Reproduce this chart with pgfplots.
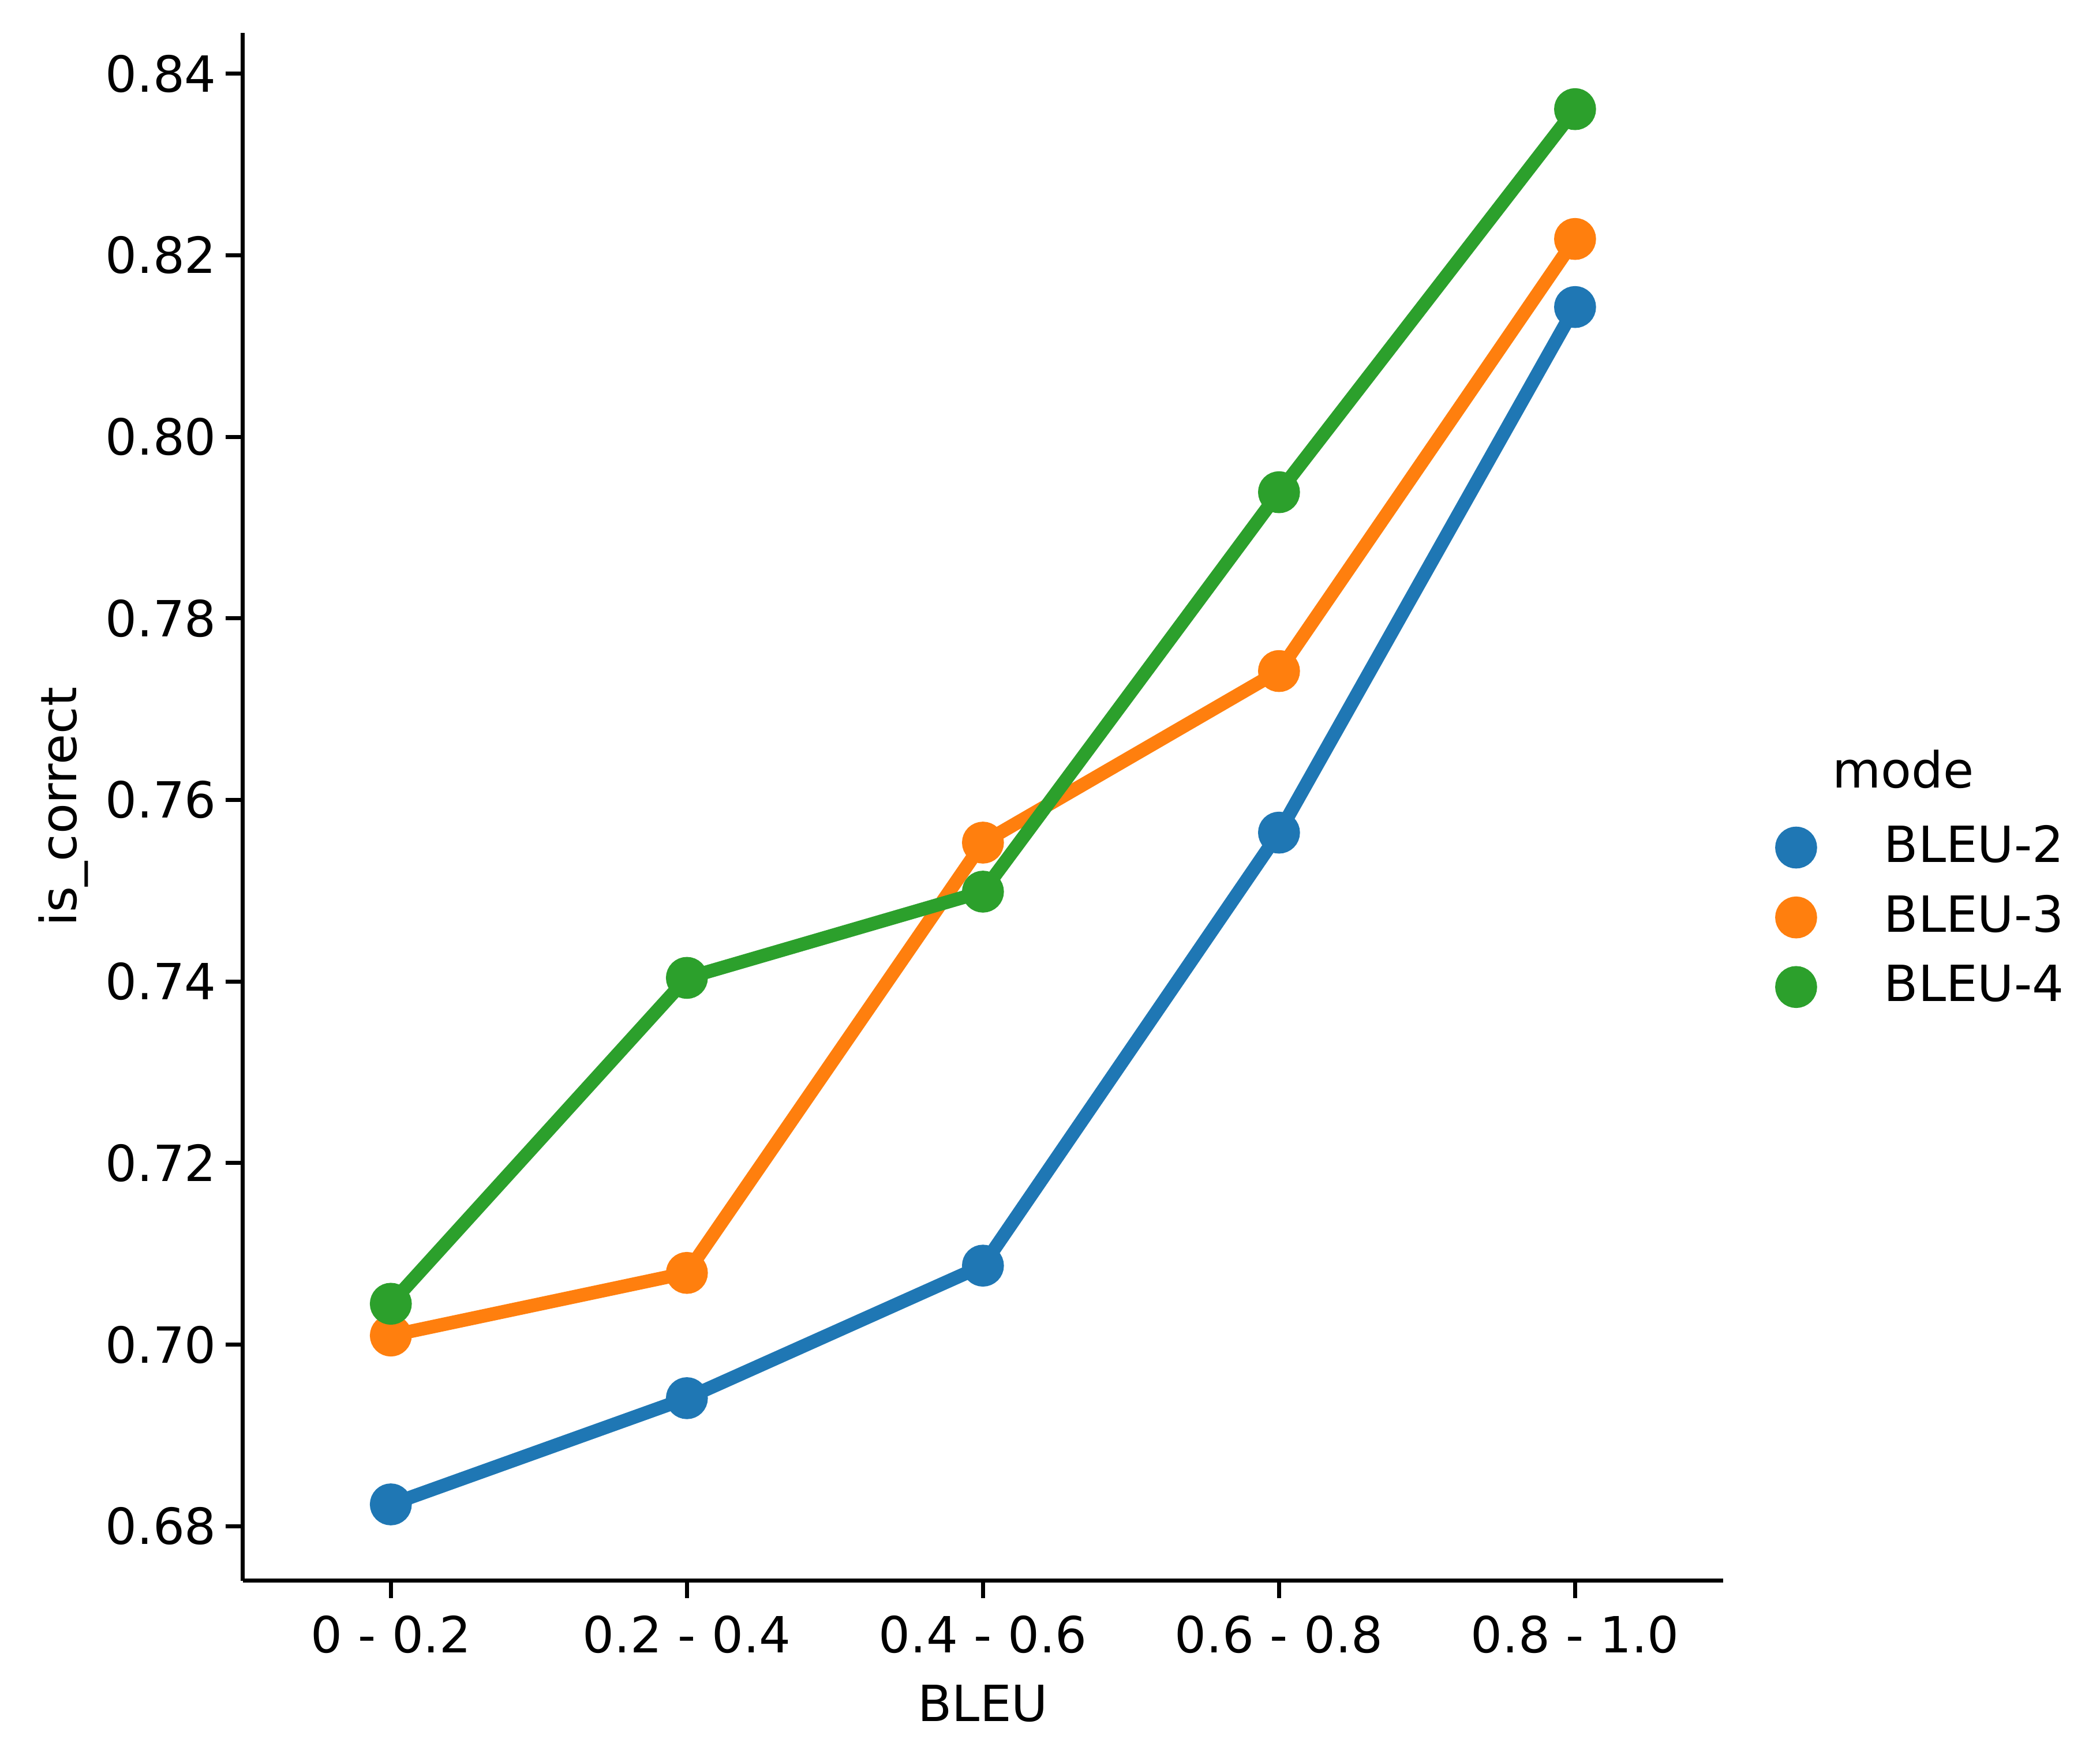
\documentclass[border=0pt]{standalone}
\usepackage{fontspec}
\setmainfont{DejaVu Sans}
\usepackage{pgfplots}
\pgfplotsset{compat=1.18}

\definecolor{tabblue}{HTML}{1F77B4}
\definecolor{taborange}{HTML}{FF7F0E}
\definecolor{tabgreen}{HTML}{2CA02C}

\begin{document}
\begin{tikzpicture}
\begin{axis}[
    name=ax,
    scale only axis,
    width=296.9pt, height=310.5pt,
    xmin=-0.5, xmax=4.5,
    ymin=0.674, ymax=0.8445,
    clip=false,
    axis lines=left,
    axis line style={-, line width=0.8pt, black},
    tick align=outside,
    major tick length=3.5pt,
    every tick/.style={black, line width=0.8pt},
    xtick={0,1,2,3,4},
    xticklabels={0 - 0.2, 0.2 - 0.4, 0.4 - 0.6, 0.6 - 0.8, 0.8 - 1.0},
    ytick={0.68,0.70,0.72,0.74,0.76,0.78,0.80,0.82,0.84},
    /pgf/number format/assume math mode=true,
    yticklabel={\pgfmathprintnumber[fixed, fixed zerofill, precision=2]{\tick}},
    xticklabel style={inner sep=0pt, anchor=base, yshift=-11pt},
    yticklabel style={inner sep=0pt, anchor=east, xshift=-1.6pt},
    xlabel={BLEU},
    ylabel={is\_correct},
    xlabel style={at={(axis description cs:0.5,0)}, anchor=base, inner sep=0pt, yshift=-28.2pt},
    ylabel style={at={(axis description cs:-0.1125,0.5)}, anchor=base, inner sep=0pt},
    legend image code/.code={\draw[#1] plot coordinates {(0pt,0pt)};},
    legend cell align=left,
    legend style={draw=none, fill=none, inner sep=0pt,
        at={(axis description cs:1.0391,0.4287)}, anchor=west,
        column sep=14.8pt, row sep=5.1pt,
        nodes={inner sep=0pt, font=\fontsize{10}{12}\selectfont}},
    every axis plot/.append style={line width=2.72pt, mark=*, mark size=2.84pt},
]
\addplot[tabblue, mark options={fill=tabblue}] coordinates {
    (0,0.6824) (1,0.6941) (2,0.7087) (3,0.7564) (4,0.8143)};
\addlegendentry{BLEU-2}
\addplot[taborange, mark options={fill=taborange}] coordinates {
    (0,0.7010) (1,0.7079) (2,0.7553) (3,0.7742) (4,0.8218)};
\addlegendentry{BLEU-3}
\addplot[tabgreen, mark options={fill=tabgreen}] coordinates {
    (0,0.7045) (1,0.7404) (2,0.7499) (3,0.7939) (4,0.8361)};
\addlegendentry{BLEU-4}
\node[anchor=base, inner sep=0pt] at (axis description cs:1.1216,0.5121) {mode};
\end{axis}
\pgfresetboundingbox
\path[use as bounding box] ([shift={(-48.7pt,-36.3pt)}]ax.south west) rectangle ([shift={(75.6pt,6.6pt)}]ax.north east);
\end{tikzpicture}
\end{document}
